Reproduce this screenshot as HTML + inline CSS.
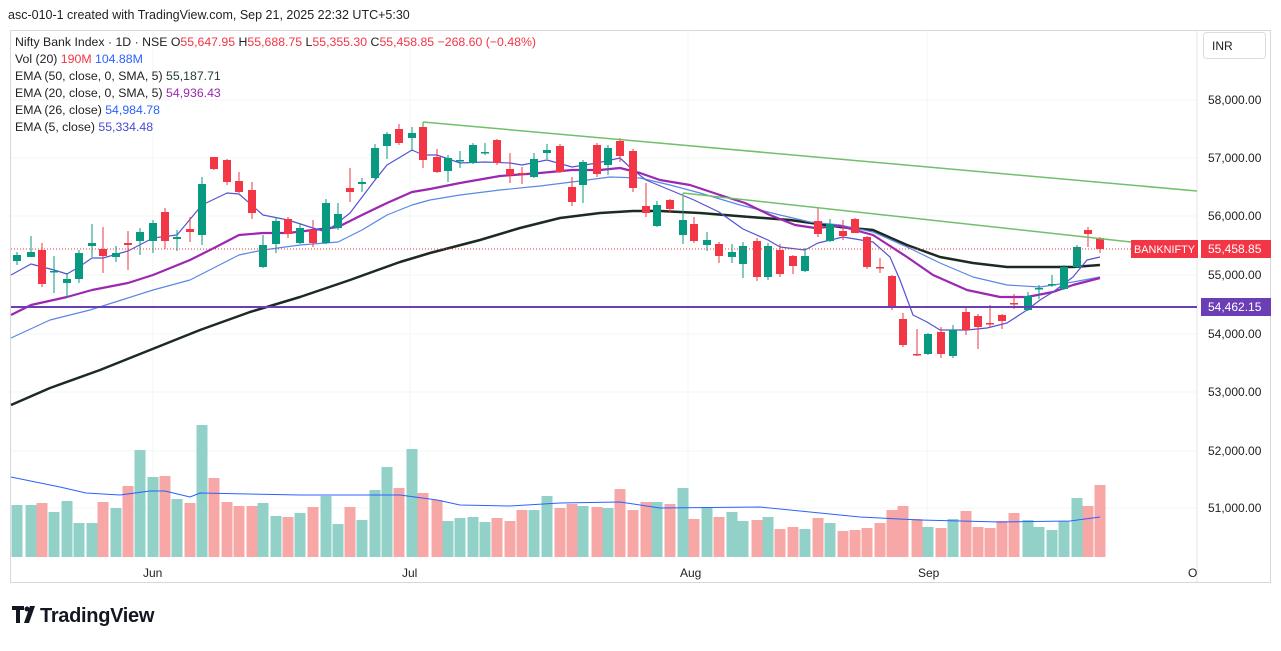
<!DOCTYPE html>
<html><head><meta charset="utf-8"><style>
body{margin:0;background:#fff;width:1281px;height:646px;overflow:hidden;font-family:"Liberation Sans",sans-serif}
svg text{font-family:"Liberation Sans",sans-serif}
</style></head><body>
<svg id="s" width="1281" height="646" xmlns="http://www.w3.org/2000/svg">
<text x="8" y="19" font-size="12.5" fill="#222">asc-010-1 created with TradingView.com, Sep 21, 2025 22:32 UTC+5:30</text>
<rect x="10.5" y="30.5" width="1260" height="552" fill="#fff" stroke="#d8d8d8"/>
<g id="grid" stroke="#f3f4f6" stroke-width="1"></g>
<g id="vol"></g>
<g id="lines" fill="none"></g>
<g id="candles"></g>
<g id="ov"></g>
<g font-size="12.3" fill="#222">
<text x="15" y="46"><tspan>Nifty Bank Index · 1D · NSE  O</tspan><tspan fill="#f23645">55,647.95</tspan><tspan> H</tspan><tspan fill="#f23645">55,688.75</tspan><tspan> L</tspan><tspan fill="#f23645">55,355.30</tspan><tspan> C</tspan><tspan fill="#f23645">55,458.85</tspan><tspan fill="#f23645"> −268.60 (−0.48%)</tspan></text>
<text x="15" y="63">Vol (20) <tspan fill="#f23645">190M</tspan> <tspan fill="#2962ff">104.88M</tspan></text>
<text x="15" y="80">EMA (50, close, 0, SMA, 5) <tspan fill="#1e3d2f">55,187.71</tspan></text>
<text x="15" y="97">EMA (20, close, 0, SMA, 5) <tspan fill="#9c27b0">54,936.43</tspan></text>
<text x="15" y="114">EMA (26, close) <tspan fill="#2962ff">54,984.78</tspan></text>
<text x="15" y="131">EMA (5, close) <tspan fill="#4a4ad0">55,334.48</tspan></text>
</g>
<rect x="1203.5" y="32.5" width="62" height="26" rx="3" fill="#fff" stroke="#ddd"/>
<text x="1212" y="50" font-size="12" fill="#222">INR</text>
<g font-size="12" fill="#222" id="ax"></g>
<g font-size="12" fill="#222">
<text x="143" y="577">Jun</text><text x="402" y="577">Jul</text><text x="680" y="577">Aug</text><text x="918" y="577">Sep</text><text x="1188" y="577">O</text>
</g>
<rect x="1131" y="240" width="67" height="18" fill="#f23645"/>
<text x="1134" y="253" font-size="11" fill="#fff" textLength="61" lengthAdjust="spacingAndGlyphs">BANKNIFTY</text>
<rect x="1201" y="240" width="70" height="18" fill="#f23645"/>
<text x="1208" y="253" font-size="12" fill="#fff">55,458.85</text>
<rect x="1201" y="298" width="70" height="18" fill="#6a3fb5"/>
<text x="1208" y="311" font-size="12" fill="#fff">54,462.15</text>
<g transform="translate(12,606)" fill="#131722">
<path d="M0 0h12v4H8v13H4V4H0z"/><circle cx="15" cy="3" r="2.5"/><path d="M18 0h5l-6 17h-5z"/>
<text x="28" y="16" font-size="20" font-weight="bold" letter-spacing="-0.3">TradingView</text>
</g>
</svg>
<script>
const NS="http://www.w3.org/2000/svg";
function el(p,t,a){const e=document.createElementNS(NS,t);for(const k in a)e.setAttribute(k,a[k]);document.getElementById(p).appendChild(e);return e;}
[100,158,216,275,334,392,451,508].forEach(y=>el("grid","line",{x1:11,x2:1197,y1:y,y2:y}));
[153,410,688,927].forEach(x=>el("grid","line",{x1:x,x2:x,y1:31,y2:560}));
el("grid","line",{x1:1197,x2:1197,y1:31,y2:582,stroke:"#e6e6e6"});
[["58,000.00",104],["57,000.00",162],["56,000.00",220],["55,000.00",279],["54,000.00",338],["53,000.00",396],["52,000.00",455],["51,000.00",512]].forEach(a=>{const t=el("ax","text",{x:1208,y:a[1]});t.textContent=a[0];});
const C=[
[17,'g',255,261,252,265],[31,'g',252,257,236,257],[42,'r',250,284,243,287],[54,'g',271,272,256,293],[67,'g',279,283,273,298],[79,'g',253,279,250,283],[92,'g',243,246,224,257],[103,'r',249,256,227,273],[116,'g',253,257,246,262],[128,'r',243,245,231,270],
[140,'g',232,241,228,255],[153,'g',223,241,220,253],[165,'r',212,241,208,249],[177,'g',237,239,230,251],[190,'r',229,232,217,242],[202,'g',184,235,177,245],[214,'r',157,169,157,170],[227,'r',160,182,159,185],[239,'r',181,192,172,193],[252,'r',190,213,182,219],
[263,'g',245,267,235,268],[276,'g',221,244,217,253],[288,'r',219,234,217,238],[300,'g',228,243,223,244],[313,'r',230,243,220,247],[326,'g',203,243,199,244],[338,'g',214,228,203,230],[350,'r',188,192,168,202],[362,'g',182,184,178,192],[375,'g',148,178,144,179],
[387,'g',134,146,132,159],[399,'r',129,143,124,145],[412,'g',133,138,127,151],[423,'r',127,160,125,168],[437,'r',157,172,149,173],[448,'g',158,171,155,182],[460,'g',160,161,151,168],[473,'g',145,163,143,164],[485,'g',152,153,143,155],[497,'r',140,163,139,165],
[510,'r',169,175,153,183],[522,'r',173,174,167,184],[534,'g',159,177,153,178],[547,'g',150,153,144,159],[560,'r',146,172,144,173],[572,'r',187,202,177,206],[583,'g',162,185,160,203],[597,'r',145,174,143,177],[608,'g',148,165,145,175],[620,'r',141,156,138,162],
[633,'r',151,188,149,192],[646,'r',206,213,183,217],[657,'g',205,226,201,227],[670,'r',200,209,199,213],[683,'g',220,235,194,244],[694,'r',224,241,217,243],[707,'g',240,245,232,251],[719,'r',244,256,242,263],[732,'g',252,257,244,263],[743,'g',246,264,242,278],
[757,'r',241,277,238,281],[768,'g',246,277,243,280],[780,'r',250,274,244,277],[793,'r',256,266,255,274],[805,'g',256,271,248,272],[818,'r',221,234,208,237],[830,'g',224,241,219,242],[843,'r',231,236,220,240],[855,'r',219,233,218,233],[867,'r',237,267,236,269],
[880,'r',267,268,258,273],[892,'r',276,308,275,310],[903,'r',319,345,313,347],[917,'r',354,355,329,356],[928,'g',334,354,333,355],[941,'r',332,354,327,358],[953,'g',330,356,325,358],[966,'r',312,330,307,335],[978,'r',316,327,314,349],[990,'r',323,324,305,328],
[1002,'r',315,321,314,329],[1014,'r',303,304,294,309],[1028,'g',296,310,292,311],[1039,'g',288,289,285,299],[1052,'g',284,285,275,287],[1064,'g',267,289,265,290],[1077,'g',247,267,245,268],[1088,'r',230,234,227,247],[1100,'r',238,249,237,253]];
const V=[505,505,503,512,501,523,523,502,508,486,450,477,476,499,503,425,478,502,506,506,503,516,517,513,507,496,524,507,520,490,467,488,449,493,500,521,518,517,522,518,521,510,510,496,508,504,506,507,508,489,510,502,502,504,488,519,507,517,512,521,520,517,529,527,529,518,523,531,530,528,523,510,506,519,527,528,519,511,527,528,521,513,520,527,530,521,498,506,485];
C.forEach((c,i)=>{const x=c[0];el("vol","rect",{x:x-5.5,y:V[i],width:11,height:557-V[i],fill:c[1]=='g'?'#92d1c8':'#f7a7a5'});});
function poly(pts,col,w){el("lines","polyline",{points:pts.map(p=>p.join(",")).join(" "),stroke:col,"stroke-width":w,"stroke-linejoin":"round"});}
poly([[11,477],[60,487],[86,493],[120,495],[150,491],[165,491],[190,497],[200,493],[300,495],[400,495],[437,500],[460,505],[510,506],[560,503],[620,502],[660,508],[760,507],[860,517],[920,520],[1000,522],[1070,521],[1100,517]],"#2962ff",1);
poly([[11,405],[50,388],[100,370],[150,350],[200,330],[250,312],[300,297],[350,280],[400,262],[430,253],[480,240],[520,228],[560,218],[600,213],[633,211],[660,211],[700,213],[750,217],[790,220],[840,227],[873,230],[907,245],[940,257],[973,263],[1007,267],[1040,267],[1073,267],[1100,265]],"#1b2a22",2.5);
poly([[11,338],[50,320],[90,310],[153,290],[190,280],[239,255],[263,250],[300,245],[338,242],[362,230],[387,215],[412,205],[430,200],[460,195],[500,190],[540,186],[572,182],[610,177],[640,178],[670,185],[700,193],[740,205],[780,215],[810,222],[840,225],[873,232],[907,247],[940,263],[973,277],[1007,285],[1040,287],[1073,282],[1100,277]],"#5b87e6",1.2);
poly([[11,315],[31,305],[67,297],[92,290],[128,283],[153,275],[190,260],[214,248],[239,235],[263,233],[288,233],[313,230],[338,227],[362,215],[387,203],[412,192],[430,189],[460,183],[500,176],[540,173],[572,170],[600,170],[620,168],[640,173],[660,180],[690,185],[720,195],[745,203],[770,215],[795,225],[815,228],[840,226],[873,235],[907,257],[933,275],[967,290],[1000,297],[1027,297],[1053,292],[1073,285],[1100,278]],"#9c27b0",2.2);
poly([[11,275],[31,264],[54,270],[67,274],[79,267],[92,258],[103,258],[128,251],[153,238],[177,235],[202,205],[227,193],[239,194],[263,215],[288,220],[313,228],[326,232],[350,213],[375,180],[387,165],[412,150],[423,155],[437,155],[460,163],[485,162],[510,163],[522,165],[547,160],[572,167],[597,163],[620,158],[633,170],[646,180],[670,190],[694,200],[719,212],[743,229],[768,240],[780,247],[805,250],[818,243],[843,237],[873,242],[890,257],[900,280],[913,315],[927,322],[940,330],[967,330],[987,328],[1007,323],[1027,310],[1040,300],[1053,292],[1073,277],[1087,260],[1100,257]],"#5454d4",1.2);
el("ov","line",{x1:11,x2:1197,y1:307,y2:307,stroke:"#6a3fb5","stroke-width":2});
el("ov","line",{x1:11,x2:1197,y1:249,y2:249,stroke:"#f23645","stroke-width":1,"stroke-dasharray":"1 2"});
el("ov","line",{x1:423,x2:1197,y1:122,y2:191,stroke:"#72bf6a","stroke-width":1.5});
el("ov","line",{x1:683,x2:1131,y1:193,y2:242,stroke:"#72bf6a","stroke-width":1.5});
el("ov","line",{x1:423,x2:423,y1:122,y2:127,stroke:"#72bf6a","stroke-width":1.5});
el("ov","line",{x1:683,x2:683,y1:193,y2:200,stroke:"#72bf6a","stroke-width":1.5});
C.forEach(c=>{const col=c[1]=='g'?'#089981':'#f23645';const x=c[0];
el("candles","line",{x1:x,x2:x,y1:c[4],y2:c[5],stroke:col,"stroke-width":1});
el("candles","rect",{x:x-4,y:c[2],width:8,height:Math.max(1.5,c[3]-c[2]),fill:col});});
</script>
</body></html>
